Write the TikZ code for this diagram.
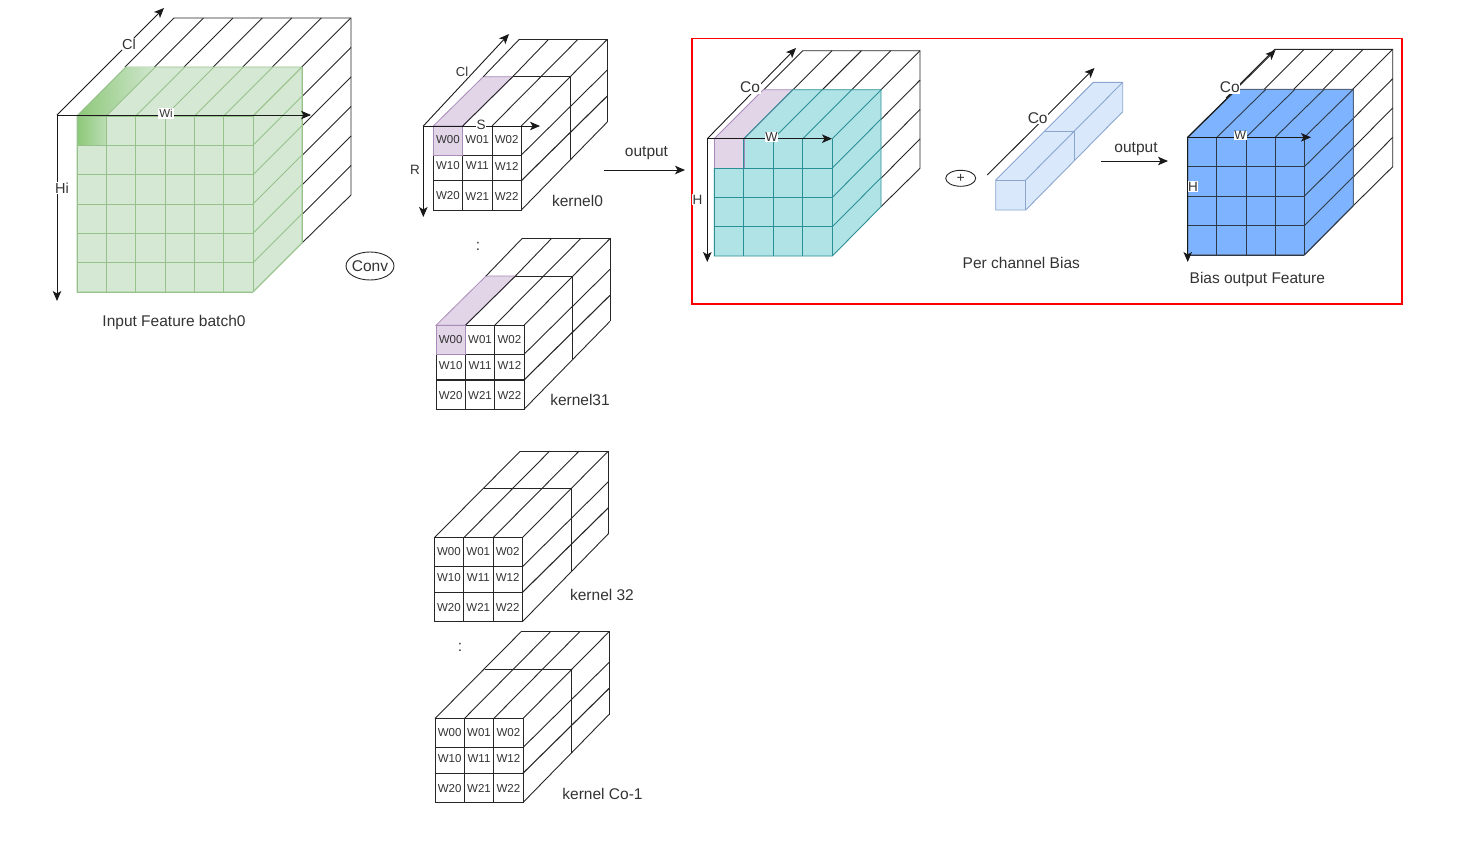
\documentclass[tikz,border=0pt]{standalone}
\usepackage{fontspec}
\setmainfont{Liberation Sans}
\usetikzlibrary{arrows.meta,shapes.geometric}
\definecolor{txt}{HTML}{333333}
\definecolor{grnF}{HTML}{D5E8D4}
\definecolor{grnS}{HTML}{97C18A}
\definecolor{grnD}{HTML}{8CC878}
\definecolor{purF}{HTML}{E1D5E7}
\definecolor{purS}{HTML}{A98BBA}
\definecolor{teaF}{HTML}{B0E3E6}
\definecolor{teaS}{HTML}{2B8F96}
\definecolor{bluF}{HTML}{DAE8FC}
\definecolor{bluS}{HTML}{8AA6CF}
\definecolor{sat}{HTML}{7EB3FF}
\definecolor{satS}{HTML}{2F3A48}
\tikzset{
  ln/.style={draw=black!85,line width=0.9pt},
  axis/.style={draw=black!90,line width=0.9pt,-{Stealth[length=10pt,width=8.5pt,inset=2.5pt]}},
  lbl/.style={text=txt,font=\fontsize{15.5}{17}\selectfont,inner sep=0.6pt},
  lblw/.style={lbl,fill=white},
  wlab/.style={text=txt,font=\fontsize{11.5}{13}\selectfont,inner sep=0pt},
  boxred/.style={draw=red,line width=1.8pt},
}
% #1 name, #2 x, #3 y, #4 1 when the first column is tinted
\newcommand{\kernelbox}[4]{%
\begin{scope}[shift={(#2,#3)}]
  \ifnum#4=1
    \path[fill=purF,draw=purS,line width=0.8pt] (0,0)--(29.4,0)--(79.4,-49.3)--(50,-49.3)--cycle;
    \path[fill=purF,draw=purS,line width=0.8pt] (0,0) rectangle (29.4,29);
    \draw[ln] (50,-49.3)--(86,-86.7);
    \draw[ln] (79.4,-49.3)--(115.4,-86.7);
    \draw[ln] (29.4,0)--(79.4,-49.3);
    \draw[ln] (58.7,0)--(144.7,-86.7);
    \draw[ln] (88,0)--(174,-86.7);
    \draw[ln] (79.4,-49.3)--(136.7,-49.3)--(136.7,34);
  \else
    \foreach \px in {0,29.4,58.7,88}{
      \draw[ln] (\px,0)--(\px+86,-86.7);
    }
    \draw[ln] (50,-49.3)--(136.7,-49.3)--(136.7,34);
  \fi
  \draw[ln] (86,-86.7)--(174,-86.7)--(174,-4);
  \draw[ln] (88,29)--(174,-56);
  \draw[ln,line width=1.1pt] (88,54.7)--(174,-30);
  \draw[ln] (88,84)--(174,-4);
  \ifnum#4=1
    \draw[ln] (29.4,0)--(88,0)--(88,84)--(0,84)--(0,29);
    \draw[ln] (0,29)--(88,29);
    \draw[ln,line width=1.1pt] (0,54.7)--(88,54.7);
    \draw[ln] (29.4,0)--(29.4,84);
    \draw[ln] (58.7,0)--(58.7,84);
    \path[draw=purS,line width=0.8pt] (0,0) rectangle (29.4,29);
  \else
    \draw[ln] (0,0) rectangle (88,84);
    \draw[ln] (0,29)--(88,29);
    \draw[ln,line width=1.1pt] (0,54.7)--(88,54.7);
    \draw[ln] (29.4,0)--(29.4,84);
    \draw[ln] (58.7,0)--(58.7,84);
  \fi
  \foreach \ry/\r in {14/0,40/1,70/2}{
    \foreach \cx/\c in {14.6/0,44/1,73.4/2}{
      \node[wlab] (#1-\r\c) at (\cx,\ry) {W\r\c};
    }
  }
\end{scope}}
\begin{document}
\begin{tikzpicture}[x=1pt,y=-1pt]
\useasboundingbox (0,0) rectangle (1461,854);
\fill[white] (0,0) rectangle (1461,854);

% ---------- input feature cube ----------
\foreach \i in {0,...,6}{
  \draw[ln] ({174+29.45*\i},18)--({125+29.45*\i},67);
}
\draw[ln] (174,18)--(351,18)--(351,195)--(302,243);
\foreach \i in {1,...,5}{
  \draw[ln] (351,{18+29.5*\i})--(302,{67+29.5*\i});
}
\path[fill=grnF,draw=grnS,line width=0.9pt] (77,116)--(126,67)--(302,67)--(302,243)--(253,292)--(77,292)--cycle;
\begin{scope}
  \clip (77,116)--(126,67)--(155,67)--(106,116)--cycle;
  \shade[left color=grnD,right color=grnF] (77,67) rectangle (160,116);
\end{scope}
\begin{scope}
  \clip (77,116) rectangle (106,145);
  \shade[left color=grnD,right color=grnF] (77,116) rectangle (122,145);
\end{scope}
\foreach \i in {0,...,6}{
  \draw[grnS,line width=0.9pt] ({77+29.35*\i},116)--({77+29.35*\i},292);
  \draw[grnS,line width=0.9pt] (77,{116+29.33*\i})--(253,{116+29.33*\i});
  \draw[grnS,line width=0.9pt] ({77+29.35*\i},116)--({126+29.35*\i},67);
  \draw[grnS,line width=0.9pt] (253,{116+29.33*\i})--(302,{67+29.33*\i});
}
\draw[grnS,line width=0.9pt] (302,67)--(302,243);
\coordinate (inO) at (57,115);
\coordinate (inC) at (164,8);
\coordinate (inW) at (311,115);
\coordinate (inH) at (57,301);
\draw[axis] (inO)--(inC);
\draw[axis] (inO)--(inW);
\draw[axis] (inO)--(inH);
\node[lblw,font=\fontsize{14.5}{16}\selectfont] (lCl) at (129,44) {Cl};
\node[wlab,fill=white,inner sep=1pt] (lWi) at (166,113.5) {Wi};
\node[lblw,font=\fontsize{14.5}{16}\selectfont] (lHi) at (62,188) {Hi};
\node[lbl] (lInput) at (174,322) {Input Feature batch0};
\node[draw=black!85,ellipse,minimum width=48pt,minimum height=28pt,inner sep=0pt,line width=0.9pt,label={[lbl]center:Conv}] (conv) at (370,266) {};

% ---------- kernels ----------
\kernelbox{kA}{433.3}{126}{1}
\kernelbox{kB}{436}{325.3}{1}
\kernelbox{kC}{434.3}{537.8}{0}
\kernelbox{kD}{435}{718.5}{0}
\coordinate (kO) at (423.3,126);
\coordinate (kCl) at (509,34);
\coordinate (kR) at (423.3,217);
\coordinate (kS) at (540,126);
\draw[axis] (kO)--(kCl);
\draw[axis] (kO)--(kR);
\draw[axis] (kO)--(kS);
\node[lblw,font=\fontsize{13}{15}\selectfont] (lkCl) at (462,72) {Cl};
\node[lbl,font=\fontsize{13.5}{15}\selectfont] (lkR) at (415,170) {R};
\node[lblw,font=\fontsize{13.5}{15}\selectfont] (lkS) at (481,125) {S};
\node[lbl] (lk0) at (577.5,200.5) {kernel0};
\node[lbl] (dots1) at (478,246) {:};
\node[lbl] (lk31) at (580,400) {kernel31};
\node[lbl] (lk32) at (602,595) {kernel 32};
\node[lbl] (dots2) at (460,647) {:};
\node[lbl] (lkCo) at (602.5,794) {kernel Co-1};

\coordinate (o1a) at (604,170);
\coordinate (o1b) at (685,170);
\draw[axis] (o1a)--(o1b);
\node[lbl] (lout1) at (646.5,153.5) {output};

% ---------- red frame ----------
\draw[boxred] (691.7,38.5) rectangle (1402,304);

% ---------- teal cube ----------
\foreach \i in {0,...,4}{
  \draw[ln] ({802.7+29.35*\i},50.7)--({754+29.35*\i},99.4);
}
\draw[ln] (802.7,50.7)--(920,50.7)--(920,168.3)--(881,206.7);
\foreach \i in {1,2,3}{
  \draw[ln] (920,{50.7+29.4*\i})--(881,{90+29.4*\i});
}
\path[fill=teaF,draw=teaS,line width=0.9pt] (744,138.7)--(792.7,89.7)--(881,89.7)--(881,206.7)--(832.3,256)--(714.3,256)--(714.3,168)--(744,168)--cycle;
\path[fill=purF,draw=purS,line width=0.8pt] (714.3,138.7)--(744,138.7)--(792.7,89.7)--(763.3,89.7)--cycle;
\path[fill=purF,draw=purS,line width=0.8pt] (714.3,138.7) rectangle (744,168);
\foreach \i in {1,2,3,4}{
  \draw[teaS,line width=0.9pt] ({714.3+29.5*\i},138.7)--({714.3+29.5*\i},256);
  \draw[teaS,line width=0.9pt] ({714.3+29.5*\i},138.7)--({763.3+29.5*\i},89.7);
}
\foreach \i in {1,2,3}{
  \draw[teaS,line width=0.9pt] (714.3,{138.7+29.35*\i})--(832.3,{138.7+29.35*\i});
  \draw[teaS,line width=0.9pt] (832.3,{138.7+29.35*\i})--(881,{89.7+29.35*\i});
}
\coordinate (tO) at (707.3,138.7);
\coordinate (tC) at (796,48);
\coordinate (tW) at (832,138.7);
\coordinate (tH) at (707.3,262);
\draw[axis] (tO)--(tC);
\draw[axis] (tO)--(tW);
\draw[axis] (tO)--(tH);
\node[lblw] (ltCo) at (750,87.5) {Co};
\node[lblw,font=\fontsize{13}{15}\selectfont] (ltW) at (771.5,137) {W};
\node[lblw,font=\fontsize{13.5}{15}\selectfont] (ltH) at (697.5,199.5) {H};

% ---------- bias bar ----------
\node[draw=black!85,ellipse,minimum width=30pt,minimum height=16pt,inner sep=0pt,line width=0.9pt,label={[wlab,font=\fontsize{14}{15}\selectfont]center:+}] (plus) at (960.7,178.3) {};
\coordinate (bA) at (987.3,175);
\coordinate (bB) at (1094.5,68);
\draw[axis] (bA)--(bB);
\path[fill=bluF,draw=bluS,line width=0.9pt] (995.7,180)--(1093.3,82.3)--(1122.7,82.3)--(1122.7,111.7)--(1025.7,210)--(995.7,210)--cycle;
\draw[bluS,line width=0.9pt] (995.7,180)--(1025.7,180)--(1025.7,210);
\draw[bluS,line width=0.9pt] (1025.7,180)--(1122.7,82.3);
\draw[bluS,line width=0.9pt] (1045,131.7)--(1074.3,131.7)--(1074.3,160);
\node[lblw] (lbCo) at (1037.7,118) {Co};
\node[lbl] (lbias) at (1021.3,262.5) {Per channel Bias};
\coordinate (o2a) at (1101,161);
\coordinate (o2b) at (1168,161);
\draw[axis] (o2a)--(o2b);
\node[lbl] (lout2) at (1136,149) {output};

% ---------- blue cube ----------
\foreach \i in {0,...,4}{
  \draw[ln] ({1274.7+29.5*\i},49.3)--({1226+29.5*\i},98);
}
\draw[ln] (1274.7,49.3)--(1392.7,49.3)--(1392.7,166.7)--(1353.3,205.7);
\foreach \i in {1,2,3}{
  \draw[ln] (1392.7,{49.3+29.35*\i})--(1353.3,{89+29.35*\i});
}
\path[fill=sat,draw=bluS!60!black,line width=1.1pt] (1187.7,137.3)--(1236.7,89.3)--(1353.3,89.3)--(1353.3,205.7)--(1304.3,255)--(1187.7,255)--cycle;
\foreach \i in {0,1,2,3,4}{
  \draw[satS,line width=0.9pt] ({1187.7+29.15*\i},137.3)--({1187.7+29.15*\i},255);
  \draw[satS,line width=0.9pt] ({1187.7+29.15*\i},137.3)--({1236.7+29.15*\i},89.3);
  \draw[satS,line width=0.9pt] (1187.7,{137.3+29.45*\i})--(1304.3,{137.3+29.45*\i});
}
\foreach \i in {1,2,3}{
  \draw[satS,line width=0.9pt] (1304.3,{137.3+29.45*\i})--(1353.3,{89.3+29.1*\i});
}
\draw[satS,line width=0.9pt] (1304.3,255)--(1353.3,205.7);
\coordinate (sO) at (1187.7,137.3);
\coordinate (sC) at (1275.5,50);
\coordinate (sW) at (1311,137.3);
\coordinate (sH) at (1187.7,262);
\draw[axis] (sO)--(sC);
\draw[axis] (sO)--(sW);
\draw[axis] (sO)--(sH);
\node[lblw] (lsCo) at (1229.7,87.5) {Co};
\node[lblw,font=\fontsize{12.5}{14}\selectfont] (lsW) at (1240.3,135.5) {W};
\node[lblw,font=\fontsize{13.5}{15}\selectfont] (lsH) at (1193,186.7) {H};
\node[lbl] (lsout) at (1257.3,279) {Bias output Feature};
\end{tikzpicture}
\end{document}
